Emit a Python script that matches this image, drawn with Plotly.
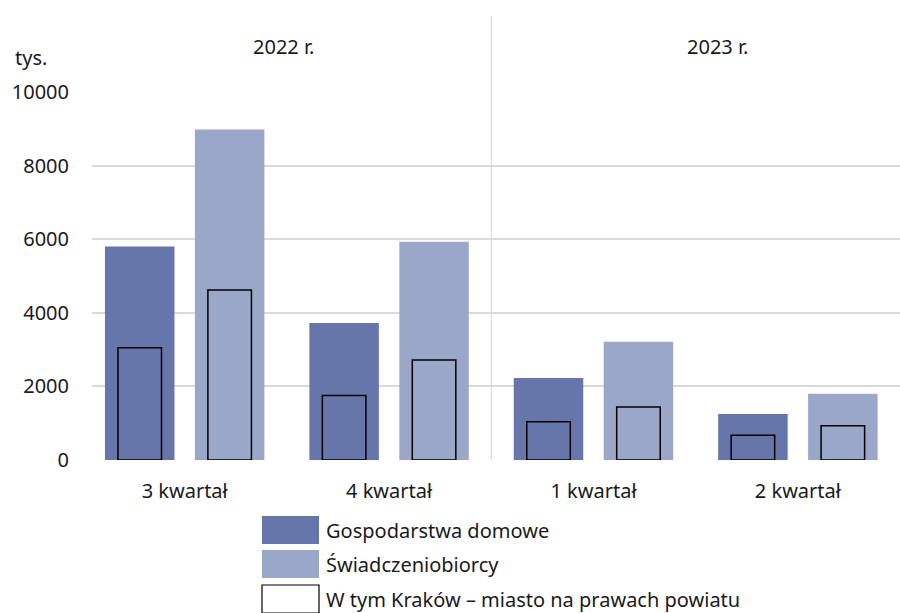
import plotly.graph_objects as go

# ---- data ----
quarters = ["3 kwartał", "4 kwartał", "1 kwartał", "2 kwartał"]
years = ["2022 r.", "2023 r."]
series_names = ["Gospodarstwa domowe", "Świadczeniobiorcy",
                "W tym Kraków – miasto na prawach powiatu"]
gospodarstwa = [5800, 3720, 2230, 1250]
swiadczeniobiorcy = [8980, 5930, 3210, 1800]
krakow_gosp = [3050, 1750, 1040, 670]
krakow_swiad = [4620, 2720, 1440, 930]
y_ticks = [0, 2000, 4000, 6000, 8000, 10000]
unit_label = "tys."

# ---- styling ----
C_DARK = "#6676AB"
C_LIGHT = "#9AA7C9"
GRID = "#d9d9d9"
FONT = "Noto Sans"
TXT = "#1a1a1a"
FS = 20

W, H = 900, 613
ML, MR, MT, MB = 92, 0, 92, 153
PW, PH = W - ML - MR, H - MT - MB
XMIN, XMAX = -0.4535, 3.4996

def px(x):
    return (x - ML) / PW

def py(y):
    return (MT + PH - y) / PH

BW, IW, OFF = 0.34, 0.213, 0.22

fig = go.Figure()
fig.add_trace(go.Bar(x=quarters, y=gospodarstwa, name=series_names[0],
                     marker=dict(color=C_DARK, line=dict(width=0)),
                     width=BW, offset=-OFF - BW / 2, showlegend=False))
fig.add_trace(go.Bar(x=quarters, y=swiadczeniobiorcy, name=series_names[1],
                     marker=dict(color=C_LIGHT, line=dict(width=0)),
                     width=BW, offset=OFF - BW / 2, showlegend=False))
fig.add_trace(go.Bar(x=quarters, y=krakow_gosp, name=series_names[2],
                     marker=dict(color="rgba(0,0,0,0)", line=dict(color="black", width=1.5)),
                     width=IW, offset=-OFF - IW / 2, showlegend=False))
fig.add_trace(go.Bar(x=quarters, y=krakow_swiad, name=series_names[2],
                     marker=dict(color="rgba(0,0,0,0)", line=dict(color="black", width=1.5)),
                     width=IW, offset=OFF - IW / 2, showlegend=False))

shapes = []
annotations = []

# year separator
sep_x = (1.5 - XMIN) / (XMAX - XMIN)
shapes.append(dict(type="line", xref="paper", yref="paper", x0=sep_x, x1=sep_x,
                   y0=0, y1=py(16), line=dict(color=GRID, width=1.2)))

# year labels
year_x = [283, 717]
for yr, xx in zip(years, year_x):
    annotations.append(dict(text=yr, xref="paper", yref="paper", x=px(xx), y=py(46),
                            showarrow=False, xanchor="center", yanchor="middle",
                            font=dict(family=FONT, size=FS, color=TXT)))

# unit label
annotations.append(dict(text=unit_label, xref="paper", yref="paper", x=px(13), y=py(58),
                        showarrow=False, xanchor="left", yanchor="middle",
                        font=dict(family=FONT, size=FS, color=TXT)))

# manual legend
leg_items = [(series_names[0], C_DARK, C_DARK, 0), (series_names[1], C_LIGHT, C_LIGHT, 0),
             (series_names[2], "white", "black", 1.2)]
leg_tops = [516, 550, 585]
for (name, fill, lc, lw), top in zip(leg_items, leg_tops):
    shapes.append(dict(type="rect", xref="paper", yref="paper",
                       x0=px(262), x1=px(319), y0=py(top + 28), y1=py(top),
                       fillcolor=fill, line=dict(color=lc, width=lw)))
    annotations.append(dict(text=name, xref="paper", yref="paper",
                            x=px(324), y=py(top + 14), showarrow=False,
                            xanchor="left", yanchor="middle",
                            font=dict(family=FONT, size=FS, color=TXT)))

fig.update_layout(
    width=W, height=H,
    margin=dict(l=ML, r=MR, t=MT, b=MB, pad=0),
    paper_bgcolor="white", plot_bgcolor="white",
    barmode="overlay",
    showlegend=False,
    shapes=shapes,
    annotations=annotations,
    font=dict(family=FONT, size=FS, color=TXT),
    xaxis=dict(type="category", range=[XMIN, XMAX], showgrid=False, showline=False,
               zeroline=False, ticks="", ticklabelstandoff=17,
               tickfont=dict(family=FONT, size=FS, color=TXT)),
    yaxis=dict(range=[0, 10000], tickvals=y_ticks, ticktext=[str(v) for v in y_ticks],
               showgrid=True, gridcolor=GRID,
               gridwidth=1.5, zeroline=False, showline=False, ticks="",
               ticklabelstandoff=22, tickfont=dict(family=FONT, size=FS, color=TXT)),
)

fig.write_html("out.html", config={"displayModeBar": False},
               post_script="document.body.style.margin='0';document.body.style.padding='0';")
